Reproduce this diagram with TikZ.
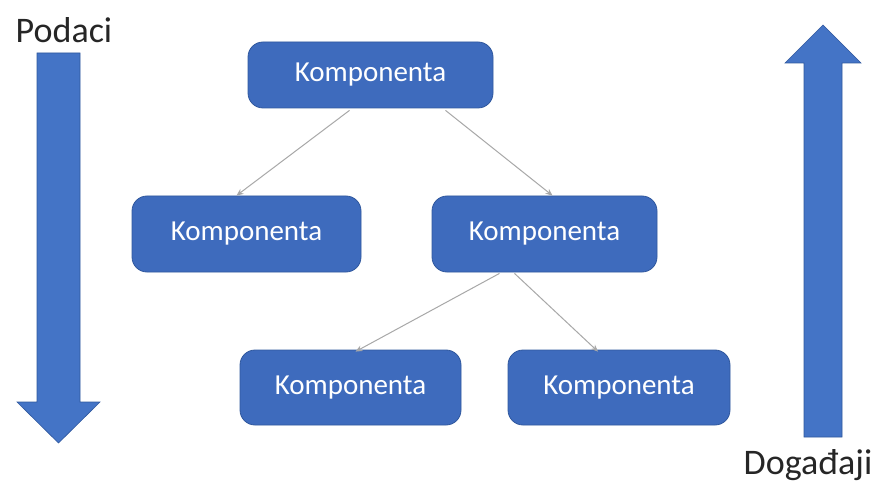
\documentclass[tikz,border=0pt]{standalone}
\usepackage{fontspec}
\setmainfont{Carlito}
\usetikzlibrary{calc,arrows.meta}
\definecolor{boxblue}{HTML}{3E6BBD}
\definecolor{boxedge}{HTML}{30589E}
\definecolor{arrowblue}{HTML}{4474C6}
\definecolor{linkgray}{HTML}{A8A8A8}
\tikzset{
  comp/.style={rounded corners=15pt, fill=boxblue, draw=boxedge, line width=0.8pt,
    minimum height=66pt, text=white, font=\fontsize{29}{32}\selectfont, inner sep=0pt},
  link/.style={draw=linkgray, line width=1pt, -{Stealth[length=7pt,width=6pt]}},
  bigarrow/.style={fill=arrowblue, draw=boxedge, line width=0.6pt},
  lbl/.style={font=\fontsize{36}{40}\selectfont, text=black!85, inner sep=0pt}
}
\begin{document}
\begin{tikzpicture}[x=1pt,y=-1pt]
\useasboundingbox[fill=white] (0,0) rectangle (880,486);
% components
\node[comp, minimum width=245pt] (top) at (370.5,75) {Komponenta};
\node[comp, minimum width=229pt, minimum height=76pt] (c1) at (246.5,234) {Komponenta};
\node[comp, minimum width=225pt, minimum height=76pt] (c2) at (544.5,234) {Komponenta};
\node[comp, minimum width=221pt, minimum height=75pt] (b1) at (350.5,387.5) {Komponenta};
\node[comp, minimum width=222pt, minimum height=75pt] (b2) at (619,387.5) {Komponenta};
% connectors
\draw[link] ($(top.south)+(-21,2)$) -- ($(c1.north)+(-10,0)$);
\draw[link] ($(top.south)+(75,2)$) -- ($(c2.north)+(8,0)$);
\draw[link] ($(c2.south)+(-45,1)$) -- ($(b1.north)+(5,2)$);
\draw[link] ($(c2.south)+(-30,1)$) -- ($(b2.north)+(-21,2)$);
% big arrows
\path[bigarrow] (37,53) -- (80,53) -- (80,402) -- (100,402) -- (58.5,443) -- (17,402) -- (37,402) -- cycle;
\path[bigarrow] (804,437) -- (842,437) -- (842,63) -- (861,63) -- (823,25) -- (785,63) -- (804,63) -- cycle;
% labels
\node[lbl, anchor=center] (podaci) at (64,30) {Podaci};
\node[lbl, anchor=center] (dogadjaji) at (808,465) {Događaji};
\end{tikzpicture}
\end{document}
